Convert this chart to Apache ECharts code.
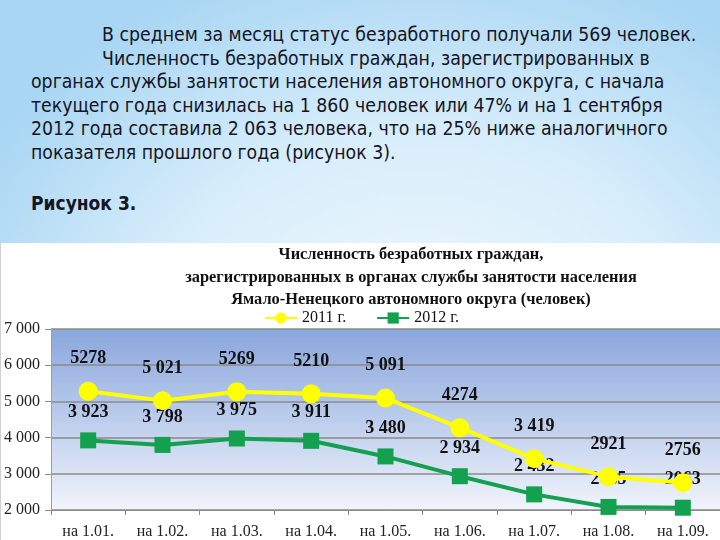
<!DOCTYPE html>
<html>
<head>
<meta charset="utf-8">
<script src="https://cdn.jsdelivr.net/npm/echarts@6/dist/echarts.min.js"></script>
<style>
html,body{margin:0;padding:0;width:720px;height:540px;overflow:hidden;}
body{background:radial-gradient(ellipse 70% 80% at 58% 70%, #f2f9fe 0%, #d9eefb 55%, #a9d6f3 100%);position:relative;font-family:"DejaVu Sans Condensed","DejaVu Sans",sans-serif;}
#text{position:absolute;left:31px;top:23px;width:690px;font-size:19.3px;line-height:23.6px;color:#151525;white-space:nowrap;}
#text .ind{padding-left:71px;}
#fig{position:absolute;left:31px;top:192px;font-size:19px;font-weight:bold;color:#151525;}
#chart{position:absolute;left:0;top:243px;width:720px;height:297px;background:#fff;border-left:1px solid #d0d0d0;box-sizing:border-box;}
</style>
</head>
<body>
<div id="text">
<div class="ind">В среднем за месяц статус безработного получали 569 человек.</div>
<div class="ind">Численность безработных граждан, зарегистрированных в</div>
<div>органах службы занятости населения автономного округа, с начала</div>
<div>текущего года снизилась на 1 860 человек или 47% и на 1 сентября</div>
<div>2012 года составила 2 063 человека, что на 25% ниже аналогичного</div>
<div>показателя прошлого года (рисунок 3).</div>
</div>
<div id="fig">Рисунок 3.</div>
<div id="chart"></div>
<script>
const categories = ["на 1.01.","на 1.02.","на 1.03.","на 1.04.","на 1.05.","на 1.06.","на 1.07.","на 1.08.","на 1.09."];
const values2011 = [5278, 5021, 5269, 5210, 5091, 4274, 3419, 2921, 2756];
const values2012 = [3923, 3798, 3975, 3911, 3480, 2934, 2432, 2085, 2063];
const labels2011 = ["5278","5 021","5269","5210","5 091","4274","3 419","2921","2756"];
const labels2012 = ["3 923","3 798","3 975","3 911","3 480","2 934","2 432","2085","2063"];
const yTicks = {min: 2000, max: 7000, interval: 1000};

const serif = '"Liberation Serif","Times New Roman",serif';
const chart = echarts.init(document.getElementById('chart'));
chart.setOption({
  animation: false,
  title: {
    text: 'Численность безработных граждан,\nзарегистрированных в органах службы занятости населения\nЯмало-Ненецкого автономного округа (человек)',
    left: 405, top: -4, textAlign: 'center',
    textStyle: {fontFamily: serif, fontSize: 16.4, fontWeight: 'bold', color: '#111', lineHeight: 22.5}
  },
  legend: {
    top: 62, left: 258, itemGap: 30, itemWidth: 32, itemHeight: 14,
    textStyle: {fontFamily: serif, fontSize: 16, color: '#111'},
    data: ['2011 г.', '2012 г.']
  },
  grid: {
    left: 48, right: 0, top: 86, bottom: 28,
    show: true, borderWidth: 0,
    backgroundColor: new echarts.graphic.LinearGradient(0, 0, 0, 1, [
      {offset: 0, color: '#8aa6dc'}, {offset: 0.5, color: '#bccdec'}, {offset: 1, color: '#f1f4fb'}
    ])
  },
  xAxis: {
    type: 'category', data: categories, boundaryGap: true,
    axisLine: {show: true, lineStyle: {color: '#8c8c8c', width: 1}},
    axisTick: {show: true, length: 5, lineStyle: {color: '#8c8c8c'}},
    axisLabel: {fontFamily: serif, fontSize: 16, color: '#222', margin: 14}
  },
  yAxis: {
    type: 'value', min: yTicks.min, max: yTicks.max, interval: yTicks.interval,
    axisLine: {show: true, lineStyle: {color: '#a0a0a0'}},
    axisTick: {show: true, length: 6, lineStyle: {color: '#8c8c8c'}},
    splitLine: {show: true, lineStyle: {color: '#8a8a8a', width: 1.5}},
    axisLabel: {
      fontFamily: serif, fontSize: 16, color: '#222', margin: 11,
      formatter: v => String(v).replace(/(\d)(\d{3})$/, '$1 $2')
    }
  },
  series: [
    {
      name: '2011 г.', type: 'line', data: values2011,
      symbol: 'circle', symbolSize: 19,
      lineStyle: {color: '#ffff00', width: 4},
      itemStyle: {color: '#ffff00'},
      label: {
        show: true, position: 'top', distance: 14,
        fontFamily: serif, fontSize: 18, fontWeight: 'bold', color: '#111',
        formatter: p => labels2011[p.dataIndex]
      },
      z: 3
    },
    {
      name: '2012 г.', type: 'line', data: values2012,
      symbol: 'rect', symbolSize: 16,
      lineStyle: {color: '#13a04f', width: 4},
      itemStyle: {color: '#13a04f'},
      label: {
        show: true, position: 'top', distance: 11,
        fontFamily: serif, fontSize: 18, fontWeight: 'bold', color: '#111',
        formatter: p => labels2012[p.dataIndex]
      },
      z: 2
    }
  ]
});
</script>
</body>
</html>
